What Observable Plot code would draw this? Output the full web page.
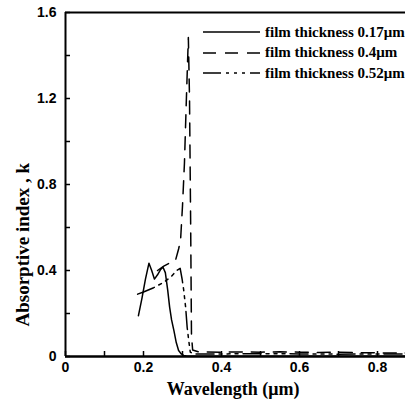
<!DOCTYPE html>
<html>
<head>
<meta charset="utf-8">
<script src="https://cdn.jsdelivr.net/npm/d3@7"></script>
<script src="https://cdn.jsdelivr.net/npm/@observablehq/plot@0.6"></script>
<style>
  html, body { margin: 0; padding: 0; background: #fff; overflow: hidden; }
  #wrap { position: relative; width: 405px; height: 405px; }
  #legend { position: absolute; left: 203px; top: 22px; font: bold 15px "Liberation Serif", "Times New Roman", serif; color: #000; }
  .row { display: flex; align-items: center; height: 20.5px; white-space: nowrap; }
  .row svg { width: 57px; height: 6px; margin-right: 5px; flex: none; }
</style>
</head>
<body>
<div id="wrap">
  <div id="chart"></div>
  <div id="legend"></div>
</div>
<script>
// Absorptive index k versus wavelength for three film thicknesses
const seriesNames = ["film thickness 0.17\u03bcm", "film thickness 0.4\u03bcm", "film thickness 0.52\u03bcm"];
const dashes = [null, "13,9", "18,5,3,5,3,5,3,5"];

// 0.17 µm film
const wl017 = [0.187, 0.196, 0.205, 0.214, 0.221, 0.228, 0.236, 0.244, 0.25, 0.256, 0.262, 0.267, 0.272, 0.278, 0.284, 0.29, 0.297, 0.303, 0.31, 0.32, 0.35, 0.4, 0.5, 0.6, 0.7, 0.8, 0.88];
const k017 = [0.19, 0.27, 0.36, 0.434, 0.40, 0.36, 0.38, 0.405, 0.415, 0.39, 0.31, 0.23, 0.17, 0.12, 0.065, 0.028, 0.012, 0.005, 0.002, 0.001, 0.001, 0.001, 0.001, 0.001, 0.001, 0.001, 0.001];

// 0.4 µm film
const wl04 = [0.236, 0.252, 0.267, 0.282, 0.29, 0.295, 0.3, 0.305, 0.31, 0.315, 0.318, 0.321, 0.323, 0.326, 0.34, 0.4, 0.45, 0.5, 0.55, 0.6, 0.65, 0.7, 0.75, 0.8, 0.88];
const k04 = [0.40, 0.42, 0.435, 0.447, 0.50, 0.54, 0.70, 0.90, 1.20, 1.484, 1.20, 0.60, 0.10, 0.03, 0.022, 0.02, 0.021, 0.02, 0.022, 0.02, 0.019, 0.02, 0.018, 0.017, 0.016];

// 0.52 µm film
const wl052 = [0.185, 0.2, 0.226, 0.252, 0.27, 0.285, 0.294, 0.299, 0.303, 0.308, 0.312, 0.316, 0.32, 0.33, 0.4, 0.5, 0.6, 0.7, 0.8, 0.88];
const k052 = [0.29, 0.30, 0.32, 0.345, 0.37, 0.40, 0.41, 0.36, 0.31, 0.23, 0.135, 0.074, 0.02, 0.012, 0.012, 0.013, 0.012, 0.011, 0.012, 0.011];

const xTicks = [0, 0.1, 0.2, 0.3, 0.4, 0.5, 0.6, 0.7, 0.8];
const xLabels = [0, 0.2, 0.4, 0.6, 0.8];
const yTicks = [0, 0.2, 0.4, 0.6, 0.8, 1.0, 1.2, 1.4, 1.6];
const yLabels = [0, 0.4, 0.8, 1.2, 1.6];

const toRows = (xs, ks) => xs.map((x, i) => ({x, k: ks[i]}));
const series = [toRows(wl017, k017), toRows(wl04, k04), toRows(wl052, k052)];

const fmt = d => d === 0 ? "0" : d.toFixed(1);
const sans = "Liberation Sans, Arial, sans-serif";
const serif = "Liberation Serif, Times New Roman, serif";

const chart = Plot.plot({
  width: 405,
  height: 405,
  marginLeft: 65,
  marginRight: 0,
  marginTop: 12,
  marginBottom: 49,
  x: {domain: [0, 340 / 390]},
  y: {domain: [0, 1.6]},
  style: {background: "#fff", color: "#000"},
  marks: [
    Plot.axisX(xLabels, {tickSize: 0, tickPadding: 6, tickFormat: fmt, fontSize: 14, fontWeight: "bold", fontFamily: sans, label: null}),
    Plot.axisY(yLabels, {tickSize: 0, tickPadding: 9, tickFormat: fmt, fontSize: 14, fontWeight: "bold", fontFamily: sans, label: null}),
    Plot.tickX(xTicks, {x: d => d, insetTop: 339, strokeWidth: 1.5}),
    Plot.tickY(yTicks, {y: d => d, insetRight: 335, strokeWidth: 1.5}),
    ...series.map((s, i) => Plot.line(s, {x: "x", y: "k", stroke: "#000", strokeWidth: 1.5, strokeDasharray: dashes[i], clip: true})),
    Plot.ruleX([0], {strokeWidth: 2}),
    Plot.ruleY([0], {strokeWidth: 2.5}),
    Plot.ruleY([1.6], {strokeWidth: 2}),
    Plot.text(["Wavelength (\u03bcm)"], {frameAnchor: "bottom", dy: 38, x: 0.43, fontSize: 18, fontWeight: "bold", fontFamily: serif}),
    Plot.text(["Absorptive index , k"], {frameAnchor: "middle", x: 0, y: 0.52, dx: -43, rotate: -90, fontSize: 19, fontWeight: "bold", fontFamily: serif})
  ]
});
document.getElementById("chart").appendChild(chart);

// Legend drawn over the upper right of the plot
const legend = document.getElementById("legend");
seriesNames.forEach((name, i) => {
  const row = document.createElement("div");
  row.className = "row";
  const dash = dashes[i] ? ` stroke-dasharray="${dashes[i]}"` : "";
  row.innerHTML = `<svg><line x1="0" x2="57" y1="3" y2="3" stroke="#000" stroke-width="1.5"${dash}/></svg><span>${name}</span>`;
  legend.appendChild(row);
});
</script>
</body>
</html>
